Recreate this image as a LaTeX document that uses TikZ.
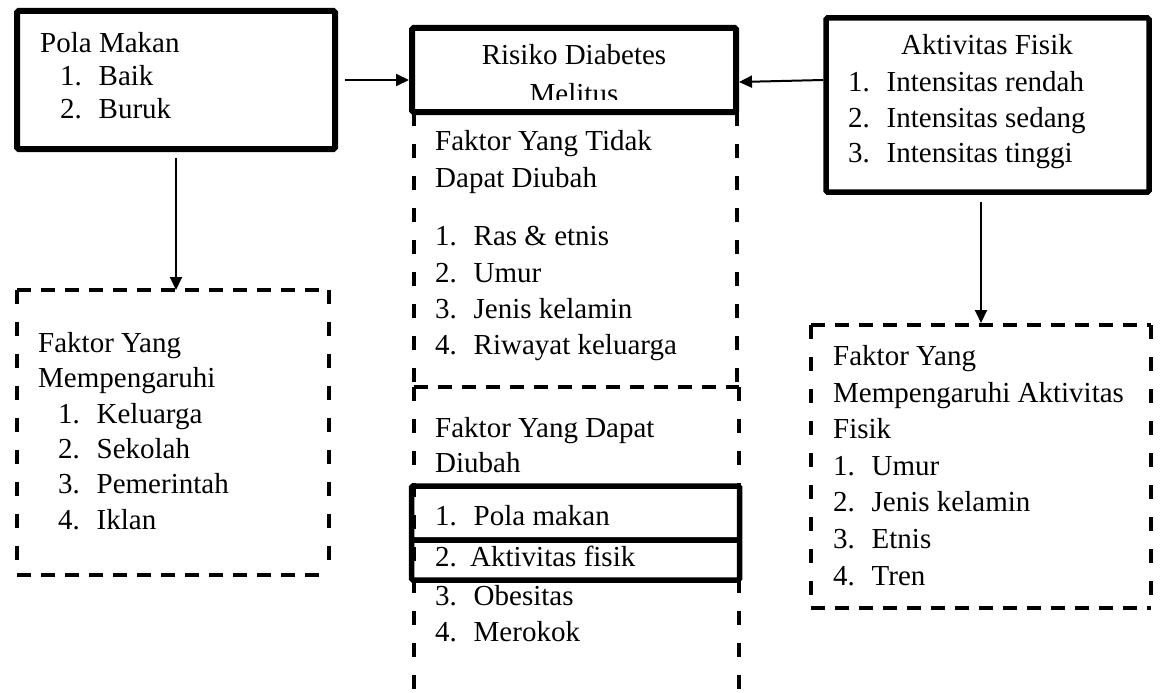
\documentclass[tikz,border=0pt]{standalone}
\usepackage{fontspec}
\setmainfont{Liberation Serif}
\usetikzlibrary{arrows.meta, positioning}
\newcommand{\itm}[3][38.5pt]{\makebox[#1][l]{#2}#3}
\tikzset{
  solidbox/.style={draw, line width=6pt, rounded corners=1.5pt, inner sep=0pt},
  dashbox/.style={inner sep=0pt, outer sep=0pt},
  hdash/.style={line width=4pt, dash pattern=on 14pt off 10pt},
  vdash/.style={line width=4pt, dash pattern=on 14pt off 18pt},
  txt/.style={font=\fontsize{29pt}{35pt}\selectfont, anchor=base west, inner sep=0pt},
  conn/.style={-{Triangle[length=13pt, width=12pt]}, line width=2pt},
}

\begin{document}
\begin{tikzpicture}[x=1pt, y=-1pt]
  \useasboundingbox (0,0) rectangle (1162,693);
  \clip (0,0) rectangle (1162,693);
  % dashed frames
  \node[dashbox, minimum width=312pt, minimum height=285pt] (lfak) at (173,432.5) {};
  \node[dashbox, minimum width=323.5pt, minimum height=275pt] (tfak) at (575.25,249.5) {};
  \node[dashbox, minimum width=325.5pt, minimum height=333pt] (dfak) at (576.25,553.5) {};
  \node[dashbox, minimum width=340pt, minimum height=283pt] (rfak) at (981,466.5) {};
  \foreach \n in {lfak,tfak,dfak,rfak} {
    \draw[hdash] (\n.north west) -- (\n.north east) (\n.south west) -- (\n.south east);
    \draw[vdash] (\n.north west) -- (\n.south west) (\n.north east) -- (\n.south east);
  }
  % solid frames
  \node[solidbox, minimum width=318pt, minimum height=138pt] (pola) at (176,80) {};
  \node[solidbox, minimum width=324pt, minimum height=84pt] (risk) at (574,70) {};
  \node[solidbox, line width=5.5pt, minimum width=323pt, minimum height=174pt] (aktv) at (987.5,105) {};
  \node[solidbox, line width=5.5pt, minimum width=328pt, minimum height=54pt] (pmk) at (575.5,513) {};
  \node[solidbox, line width=5.5pt, minimum width=328pt, minimum height=40pt] (afs) at (575.5,560) {};
  % Pola Makan
  \node[txt] (pola0) at (40,53) {Pola Makan};
  \node[txt] (pola1) at (60,85) {\itm{1.}{Baik}};
  \node[txt] (pola2) at (60,118) {\itm{2.}{Buruk}};
  % Risiko Diabetes Melitus
  \node[txt, anchor=base] (risk0) at (574,65) {Risiko Diabetes};
  \begin{scope}
    \clip (412,28) rectangle (736,99);
    \node[txt, anchor=base] (risk1) at (574,103) {Melitus};
  \end{scope}
  % Aktivitas Fisik
  \node[txt, anchor=base] (aktv0) at (987,55) {Aktivitas Fisik};
  \node[txt] (aktv1) at (848,92) {\itm{1.}{Intensitas rendah}};
  \node[txt] (aktv2) at (848,127) {\itm{2.}{Intensitas sedang}};
  \node[txt] (aktv3) at (848,162) {\itm{3.}{Intensitas tinggi}};
  % Faktor Yang Tidak Dapat Diubah
  \node[txt] (tfak0) at (435,150) {Faktor Yang Tidak};
  \node[txt] (tfak1) at (435,187) {Dapat Diubah};
  \node[txt] (tfak2) at (435,245) {\itm{1.}{Ras \& etnis}};
  \node[txt] (tfak3) at (435,282) {\itm{2.}{Umur}};
  \node[txt] (tfak4) at (435,318) {\itm{3.}{Jenis kelamin}};
  \node[txt] (tfak5) at (435,354) {\itm{4.}{Riwayat keluarga}};
  % Faktor Yang Dapat Diubah
  \node[txt] (dfak0) at (435,437) {Faktor Yang Dapat};
  \node[txt] (dfak1) at (435,472) {Diubah};
  \node[txt] (dfak2) at (435,525) {\itm{1.}{Pola makan}};
  \node[txt] (dfak3) at (435,566) {\itm[35pt]{2.}{Aktivitas fisik}};
  \node[txt] (dfak4) at (435,605) {\itm{3.}{Obesitas}};
  \node[txt] (dfak5) at (435,641) {\itm{4.}{Merokok}};
  % Faktor Yang Mempengaruhi
  \node[txt] (lfak0) at (38,352) {Faktor Yang};
  \node[txt] (lfak1) at (38,387) {Mempengaruhi};
  \node[txt] (lfak2) at (58,423) {\itm{1.}{Keluarga}};
  \node[txt] (lfak3) at (58,458) {\itm{2.}{Sekolah}};
  \node[txt] (lfak4) at (58,493) {\itm{3.}{Pemerintah}};
  \node[txt] (lfak5) at (58,529) {\itm{4.}{Iklan}};
  % Faktor Yang Mempengaruhi Aktivitas Fisik
  \node[txt] (rfak0) at (833,365) {Faktor Yang};
  \node[txt] (rfak1) at (833,402) {Mempengaruhi Aktivitas};
  \node[txt] (rfak2) at (833,438) {Fisik};
  \node[txt] (rfak3) at (833,475) {\itm{1.}{Umur}};
  \node[txt] (rfak4) at (833,511) {\itm{2.}{Jenis kelamin}};
  \node[txt] (rfak5) at (833,548) {\itm{3.}{Etnis}};
  \node[txt] (rfak6) at (833,585) {\itm{4.}{Tren}};
  % connectors
  \draw[conn, shorten <=7pt] (pola.east) -- (pola.east -| risk.west);
  \draw[conn] ([yshift=25pt]aktv.west) -- ([yshift=-12pt]risk.east);
  \draw[conn, shorten <=6pt] (pola.south) -- (pola.south |- lfak.north);
  \draw[conn, shorten <=7pt] (rfak.north |- aktv.south) -- ([yshift=2pt]rfak.north);
\end{tikzpicture}
\end{document}
